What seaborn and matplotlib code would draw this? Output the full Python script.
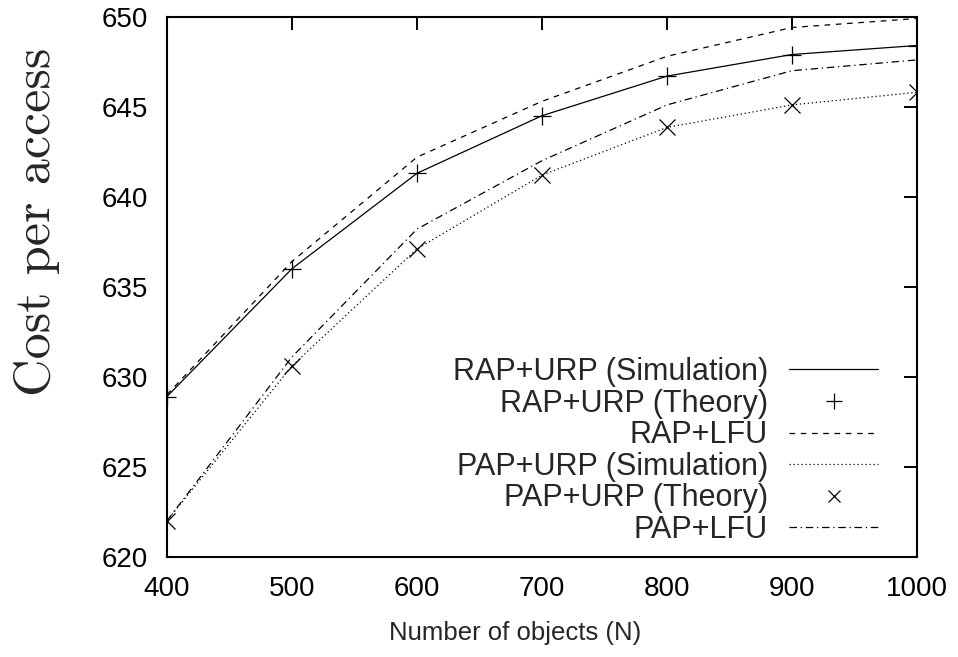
import matplotlib
matplotlib.use("Agg")
import matplotlib.pyplot as plt
import seaborn as sns
import pandas as pd

# ---- data ----
n_objects = [400, 500, 600, 700, 800, 900, 1000]
rap_urp_sim = [628.9, 636.0, 641.3, 644.5, 646.7, 647.9, 648.4]
rap_urp_theory = [628.9, 636.0, 641.3, 644.5, 646.7, 647.9, 648.4]
rap_lfu = [629.0, 636.4, 642.2, 645.3, 647.8, 649.4, 649.9]
pap_urp_sim = [622.0, 630.6, 637.1, 641.2, 643.85, 645.1, 645.8]
pap_urp_theory = [622.0, 630.6, 637.1, 641.2, 643.85, 645.1, 645.8]
pap_lfu = [622.0, 631.1, 638.2, 642.0, 645.1, 647.0, 647.6]
x_ticks = [400, 500, 600, 700, 800, 900, 1000]
y_ticks = [620, 625, 630, 635, 640, 645, 650]

sns.set_theme(style="white")
plt.rcParams['font.family'] = ['Liberation Sans', 'DejaVu Sans']

fig = plt.figure(figsize=(9.58, 6.57), dpi=100)
ax = fig.add_axes([167/958, 1 - 556.7/657, (917 - 167)/958, (556.7 - 16.7)/657])

def frame(vals, name):
    return pd.DataFrame({"N": n_objects, "cost": vals, "series": name})

lw = 0.9
sns.lineplot(data=frame(rap_urp_sim, "RAP+URP (Simulation)"), x="N", y="cost",
             ax=ax, color="black", linewidth=lw, linestyle="-",
             label="RAP+URP (Simulation)")
sns.lineplot(data=frame(rap_urp_theory, "RAP+URP (Theory)"), x="N", y="cost",
             ax=ax, color="black", linestyle="none", marker="+", markersize=13,
             markeredgewidth=0.9, markeredgecolor="black",
             label="RAP+URP (Theory)")
sns.lineplot(data=frame(rap_lfu, "RAP+LFU"), x="N", y="cost",
             ax=ax, color="black", linewidth=lw,
             label="RAP+LFU")
sns.lineplot(data=frame(pap_urp_sim, "PAP+URP (Simulation)"), x="N", y="cost",
             ax=ax, color="black", linewidth=lw,
             label="PAP+URP (Simulation)")
sns.lineplot(data=frame(pap_urp_theory, "PAP+URP (Theory)"), x="N", y="cost",
             ax=ax, color="black", linestyle="none", marker="x", markersize=11,
             markeredgewidth=0.9, markeredgecolor="black",
             label="PAP+URP (Theory)")
sns.lineplot(data=frame(pap_lfu, "PAP+LFU"), x="N", y="cost",
             ax=ax, color="black", linewidth=lw,
             label="PAP+LFU")

lines = ax.get_lines()
lines[2].set_dashes([4.5, 4.5])
lines[3].set_dashes([1.0, 2.2])
lines[5].set_dashes([6, 3, 1, 3])

ax.set_xlim(400, 1000)
ax.set_ylim(620, 650)
ax.set_xticks(x_ticks)
ax.set_yticks(y_ticks)
ax.tick_params(direction="in", length=9.5, width=1.4, top=True, right=True,
               labelsize=20, colors="black")
ax.tick_params(axis="y", pad=14)
ax.tick_params(axis="x", pad=14)
for s in ax.spines.values():
    s.set_visible(True)
    s.set_linewidth(1.5)
    s.set_color("black")

ax.set_xlabel("Number of objects (N)", fontsize=18.5)
ax.xaxis.set_label_coords((515 - 167) / 750, -(621 - 556.7) / 540)
ax.set_ylabel("Cost per access", fontsize=37.5, family=["cmr10", "DejaVu Serif"])
ax.yaxis.set_label_coords((60 - 167) / 750, (556.7 - 222) / 540)

handles, labels = ax.get_legend_handles_labels()
leg = ax.legend(handles, labels, loc="center right",
                bbox_to_anchor=(878/958, 1 - 451/657), bbox_transform=fig.transFigure,
                frameon=False, markerfirst=False, fontsize=22,
                handlelength=2.9, handletextpad=0.7, labelspacing=0.05,
                borderpad=0, borderaxespad=0, markerscale=0.85)

fig.savefig("out.png", dpi=100)
